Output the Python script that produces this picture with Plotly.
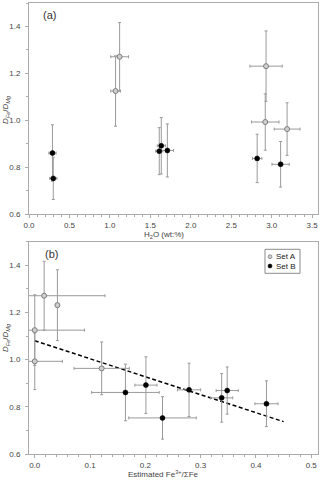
import plotly.graph_objects as go

# ---- data ----
# Panel (a): H2O content (wt%)
h2o_A = [1.07, 1.12, 2.93, 2.92, 3.19]
h2o_A_err = [0.06, 0.11, 0.20, 0.17, 0.16]
h2o_B = [0.29, 0.30, 1.61, 1.635, 1.71, 2.82, 3.11]
h2o_B_err = [0.045, 0.045, 0.045, 0.05, 0.077, 0.058, 0.107]

# D_Fe/D_Mg (same samples in both panels)
D_A = [1.125, 1.271, 1.231, 0.993, 0.963]
D_A_err = [0.15, 0.146, 0.15, 0.12, 0.112]
D_B = [0.861, 0.753, 0.869, 0.892, 0.872, 0.838, 0.813]
D_B_err = [0.12, 0.09, 0.10, 0.12, 0.113, 0.103, 0.097]

# Panel (b): estimated Fe3+/sum Fe
fe_A = [0.0, 0.017, 0.041, 0.0, 0.121]
fe_A_err = [0.09, 0.11, 0.0, 0.05, 0.05]
fe_B = [0.164, 0.231, 0.348, 0.201, 0.279, 0.338, 0.419]
fe_B_err = [0.061, 0.061, 0.02, 0.02, 0.021, 0.02, 0.021]

# linear fit in panel (b)
fit_intercept = 1.08
fit_slope = -0.762
fit_x = [0.0, 0.45]

series_names = ["Set A", "Set B"]

# ---- styles ----
FONT = "Liberation Sans, Arial, sans-serif"
TXT = "#444444"
FRAME = "#ababab"
ERR = "#9a9a9a"
A_FILL = "#cfcfcf"
A_EDGE = "#7d7d7d"
MS = 5
FS = 8

W, H = 320, 480
ML, MR, MT, MB = 29, 2, 3, 26
PW, PH = W - ML - MR, H - MT - MB


def px(xp):
    return (xp - ML) / PW


def py(yp):
    return (PH - (yp - MT)) / PH


def err(arr):
    return dict(type="data", array=arr, color=ERR, thickness=1, width=1.5)


fig = go.Figure()

# Panel (a)
fig.add_trace(go.Scatter(x=h2o_A, y=D_A, mode="markers", name=series_names[0],
                         error_x=err(h2o_A_err), error_y=err(D_A_err),
                         marker=dict(size=MS, color=A_FILL, line=dict(color=A_EDGE, width=1)),
                         showlegend=False, xaxis="x", yaxis="y"))
fig.add_trace(go.Scatter(x=h2o_B, y=D_B, mode="markers", name=series_names[1],
                         error_x=err(h2o_B_err), error_y=err(D_B_err),
                         marker=dict(size=MS, color="black", line=dict(color="black", width=0.5)),
                         showlegend=False, xaxis="x", yaxis="y"))

# Panel (b)
fig.add_trace(go.Scatter(x=fit_x, y=[fit_intercept + fit_slope * v for v in fit_x],
                         mode="lines", line=dict(color="black", width=1.5, dash="4px,2.5px"),
                         showlegend=False, xaxis="x2", yaxis="y2", hoverinfo="skip"))
fig.add_trace(go.Scatter(x=fe_A, y=D_A, mode="markers", name=series_names[0],
                         error_x=err(fe_A_err), error_y=err(D_A_err),
                         marker=dict(size=MS, color=A_FILL, line=dict(color=A_EDGE, width=1)),
                         showlegend=False, xaxis="x2", yaxis="y2"))
fig.add_trace(go.Scatter(x=fe_B, y=D_B, mode="markers", name=series_names[1],
                         error_x=err(fe_B_err), error_y=err(D_B_err),
                         marker=dict(size=MS, color="black", line=dict(color="black", width=0.5)),
                         showlegend=False, xaxis="x2", yaxis="y2"))

axis_common = dict(showline=True, linecolor=FRAME, linewidth=1, mirror=True,
                   ticks="outside", ticklen=3, tickcolor=FRAME, tickwidth=1,
                   showgrid=False, zeroline=False, automargin=False,
                   tickfont=dict(family=FONT, size=FS, color=TXT))

minor_y = dict(dtick=0.1, ticks="outside", ticklen=2, tickcolor=FRAME)

fig.update_layout(
    width=W, height=H,
    margin=dict(l=ML, r=MR, t=MT, b=MB),
    paper_bgcolor="white", plot_bgcolor="white",
    font=dict(family=FONT, color=TXT),
    showlegend=False,
    xaxis=dict(domain=[0, 1], anchor="y", range=[0, 3.572], tick0=0, dtick=0.5,
               tickformat=".1f", minor=dict(dtick=0.1, ticks="outside", ticklen=2, tickcolor=FRAME),
               **axis_common),
    yaxis=dict(domain=[py(214.3), 1], anchor="x", range=[0.6, 1.5], tick0=0.6, dtick=0.2,
               tickformat=".1f", minor=minor_y, ticklabelstandoff=3, **axis_common),
    xaxis2=dict(domain=[0, 1], anchor="y2", range=[-0.0104, 0.5122], tick0=0, dtick=0.1,
                tickformat=".1f", minor=dict(dtick=0.02, ticks="outside", ticklen=2, tickcolor=FRAME),
                **axis_common),
    yaxis2=dict(domain=[0, py(241.7)], anchor="x2", range=[0.6, 1.5], tick0=0.6, dtick=0.2,
                tickformat=".1f", minor=minor_y, ticklabelstandoff=3, **axis_common),
)

ann = []
ann.append(dict(text="(a)", x=px(41), y=py(15), xref="paper", yref="paper",
                xanchor="left", yanchor="middle", showarrow=False,
                font=dict(family=FONT, size=11, color="#333")))
ann.append(dict(text="(b)", x=px(43), y=py(254), xref="paper", yref="paper",
                xanchor="left", yanchor="middle", showarrow=False,
                font=dict(family=FONT, size=11, color="#333")))
ann.append(dict(text="H<sub>2</sub>O (wt:%)", x=px(163.7), y=py(235),
                xref="paper", yref="paper", xanchor="center", yanchor="middle", showarrow=False,
                font=dict(family=FONT, size=FS, color=TXT)))
ann.append(dict(text="Estimated Fe<sup>3+</sup>/ΣFe", x=px(163.7), y=py(474),
                xref="paper", yref="paper", xanchor="center", yanchor="middle", showarrow=False,
                font=dict(family=FONT, size=FS, color=TXT)))
ytitle = "<i>D</i><sub><i>Fe</i></sub>/<i>D</i><sub><i>Mg</i></sub>"
for yc in (110, 338):
    ann.append(dict(text=ytitle, x=px(6), y=py(yc), textangle=-90,
                    xref="paper", yref="paper", xanchor="center", yanchor="middle", showarrow=False,
                    font=dict(family=FONT, size=FS, color=TXT)))

# manual compact legend (box, symbols, labels)
shapes = []
shapes.append(dict(type="rect", xref="paper", yref="paper",
                   x0=px(265), x1=px(300), y0=py(273.3), y1=py(249.3),
                   line=dict(color="#8a8a8a", width=1), fillcolor="white", layer="above"))
leg_rows = [256.7, 266.0]
leg_styles = [(A_FILL, A_EDGE), ("black", "black")]
for name, yr, (fc, lc) in zip(series_names, leg_rows, leg_styles):
    shapes.append(dict(type="circle", xref="paper", yref="paper",
                       xsizemode="pixel", ysizemode="pixel",
                       xanchor=px(270), yanchor=py(yr), x0=-1.9, x1=1.9, y0=-1.9, y1=1.9,
                       fillcolor=fc, line=dict(color=lc, width=0.8), layer="above"))
    ann.append(dict(text=name, x=px(273.5), y=py(yr), xref="paper", yref="paper",
                    xanchor="left", yanchor="middle", showarrow=False,
                    font=dict(family=FONT, size=FS, color="#222")))

fig.update_layout(annotations=ann, shapes=shapes)

fig.write_html("out.html",
               config={"displayModeBar": False},
               post_script="document.body.style.margin='0px';document.body.style.padding='0px';")
